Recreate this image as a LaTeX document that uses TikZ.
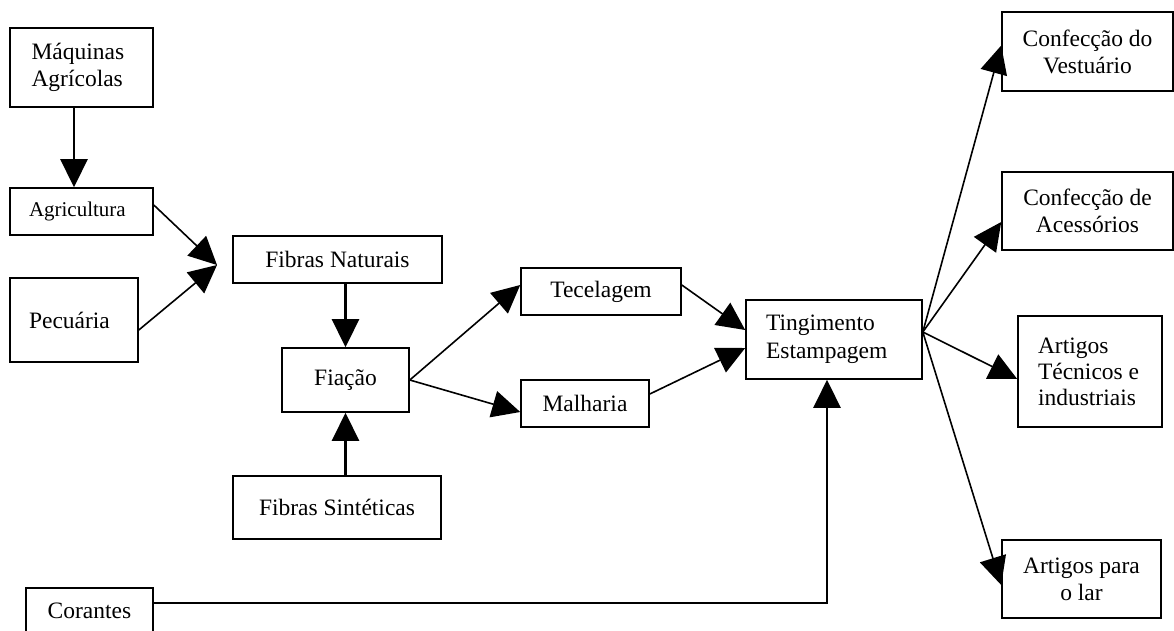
\documentclass[tikz,border=0pt]{standalone}
\usepackage{fontspec}
\setmainfont{Liberation Serif}
\usetikzlibrary{arrows.meta}
\begin{document}
\begin{tikzpicture}[x=1pt,y=-1pt,
  box/.style={draw,line width=1.6pt,inner sep=0pt,align=center,font=\fontsize{23.5}{27}\selectfont},
  thin arrow/.style={line width=1.6pt,-{Triangle[length=28pt,width=27pt]}},
  thick arrow/.style={line width=2.6pt,-{Triangle[length=28pt,width=27pt]}}]
\useasboundingbox[fill=white] (0,0) rectangle (1174,630);
\node[box,minimum width=143pt,minimum height=79pt,text width=100pt,align=flush left] (maq) at (81.5,67.5) {Máquinas\\Agrícolas};
\node[box,minimum width=143pt,minimum height=47pt,font=\fontsize{21}{24}\selectfont,text width=105pt,align=flush left] (agr) at (81.5,211.5) {Agricultura};
\node[box,minimum width=128pt,minimum height=84pt,text width=90pt,align=flush left] (pec) at (74,320) {Pecuária};
\node[box,minimum width=209pt,minimum height=47pt] (fn) at (337.5,259.5) {Fibras Naturais};
\node[box,minimum width=127pt,minimum height=64pt] (fia) at (345.5,380) {Fiação};
\node[box,minimum width=208pt,minimum height=63pt] (fs) at (337,507.5) {Fibras Sintéticas};
\node[box,minimum width=160pt,minimum height=47pt] (tec) at (601,291.5) {Tecelagem};
\node[box,minimum width=128pt,minimum height=47pt] (mal) at (585,403.5) {Malharia};
\node[box,minimum width=176pt,minimum height=79pt,align=flush left,text width=136pt,font=\fontsize{23.5}{28}\selectfont] (ting) at (834,339.5) {Tingimento\\Estampagem};
\node[box,minimum width=171pt,minimum height=79pt] (ves) at (1087.5,51.5) {Confecção do\\Vestuário};
\node[box,minimum width=171pt,minimum height=78pt] (ace) at (1087.5,211) {Confecção de\\Acessórios};
\node[box,minimum width=144pt,minimum height=111pt,align=flush left,text width=104pt,font=\fontsize{23.5}{26}\selectfont] (art) at (1090,371.5) {Artigos\\Técnicos e\\industriais};
\node[box,minimum width=159pt,minimum height=78pt] (lar) at (1081.5,579) {Artigos para\\o lar};
\node[box,minimum width=127pt,minimum height=46pt] (cor) at (89.5,611) {Corantes};
\coordinate (fnin) at (217,265);
\coordinate (tout) at ([yshift=7.5pt]ting.east);
\coordinate (tin) at ([xshift=-7pt]ting.south);
\coordinate (cout) at ([yshift=8pt]cor.east);
\coordinate (corner) at (cout -| tin);
% left side
\draw[thick arrow] ([xshift=-7.5pt]maq.south) -- ([xshift=-7.5pt]agr.north);
\draw[thin arrow] ([yshift=6.5pt]agr.east) -- (fnin);
\draw[thin arrow] ([yshift=-10pt]pec.east) -- (fnin);
\draw[thick arrow] (fn.south -| fia.north) -- (fia.north);
\draw[thick arrow] (fs.north -| fia.south) -- (fia.south);
\draw[thin arrow] (fia.east) -- ([yshift=6.5pt]tec.west);
\draw[thin arrow] (fia.east) -- ([yshift=-8.5pt]mal.west);
\draw[thin arrow] ([yshift=6.5pt]tec.east) -- ([yshift=9.5pt]ting.west);
\draw[thin arrow] ([yshift=9.5pt]mal.east) -- ([yshift=-8.5pt]ting.west);
\draw[line width=2pt] (cout) -- ([xshift=1.3pt]corner);
\draw[thick arrow] ([yshift=-1pt]corner) -- (tin);
% fan out
\draw[thin arrow] (tout) -- ([yshift=6pt]ves.west);
\draw[thin arrow] (tout) -- ([yshift=-11pt]ace.west);
\draw[thin arrow] (tout) -- ([yshift=-7.5pt]art.west);
\draw[thin arrow] (tout) -- ([yshift=-6pt]lar.west);
\end{tikzpicture}
\end{document}
